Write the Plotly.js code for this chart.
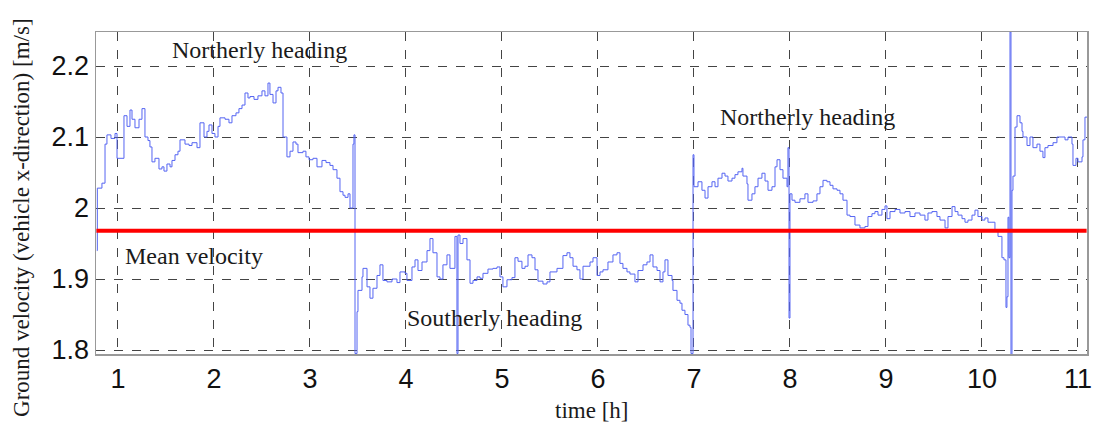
<!DOCTYPE html>
<html>
<head>
<meta charset="utf-8">
<script src="https://cdn.plot.ly/plotly-3.0.1.min.js"></script>
<style>html,body{margin:0;padding:0;background:#fff;}#chart{width:1098px;height:438px;}</style>
</head>
<body>
<div id="chart"></div>
<script>
// time [h]
const timeH = [
0.78,0.785,0.833,0.865,0.885,0.927,0.969,0.99,1.0625,1.094,1.125,1.146,1.177,1.219,1.25,1.281,1.3125,1.333,1.354,1.385,
1.427,1.458,1.479,1.51,1.542,1.5625,1.594,1.625,1.646,1.698,1.74,1.771,1.823,1.854,1.896,1.927,1.948,1.979,2.01,2.042,
2.0625,2.115,2.156,2.1875,2.229,2.26,2.292,2.323,2.354,2.375,2.417,2.458,2.5,2.531,2.5625,2.583,2.615,2.646,2.667,2.698,
2.719,2.76,2.792,2.823,2.854,2.875,2.927,2.958,2.99,3.031,3.073,3.125,3.167,3.208,3.24,3.281,3.3125,3.344,3.365,3.396,
3.417,3.448,3.458,3.469,3.49,
3.5,3.542,3.552,3.594,3.625,3.656,3.698,3.729,3.76,3.802,3.854,3.906,3.9375,3.99,4.01,4.0625,4.094,4.125,4.167,4.219,
4.25,4.281,4.323,4.354,4.385,4.427,4.458,4.51,4.531,4.542,4.5625,4.594,4.635,4.667,4.698,4.74,4.771,4.802,4.854,4.906,
4.948,4.979,5.01,5.052,5.104,5.135,5.167,5.208,5.24,5.271,5.3125,5.344,5.375,5.427,5.469,5.5,5.573,5.635,5.677,5.708,
5.74,5.781,5.8125,5.844,5.917,5.948,5.99,6.021,6.052,6.104,6.156,6.198,6.229,6.26,6.302,6.333,6.385,6.417,6.469,6.51,
6.542,6.573,6.615,6.646,6.677,6.698,6.729,6.771,6.781,6.823,6.854,6.875,6.906,6.9375,6.958,6.969,6.99,7.0,
7.042,7.083,7.115,7.146,7.1875,7.219,7.25,7.292,7.323,7.354,7.396,7.427,7.458,7.5,7.51,7.552,7.5625,7.604,7.635,7.667,
7.708,7.74,7.771,7.8125,7.844,7.865,7.896,7.927,7.969,7.979,7.99,8.0,8.021,8.052,8.104,8.156,8.1875,8.24,8.281,8.3125,
8.344,8.385,8.417,8.448,8.49,8.521,8.552,8.594,8.625,8.677,8.729,8.781,8.8125,8.854,8.885,8.917,8.958,8.99,9.01,9.042,
9.094,9.146,9.198,9.25,9.302,9.354,9.406,9.4375,9.479,9.531,9.5625,9.615,9.646,9.688,9.719,9.75,9.792,9.823,9.854,9.896,
9.927,9.958,10.0,10.031,10.0625,10.104,10.135,10.167,10.208,10.229,10.25,10.26,10.271,10.281,10.292,10.302,10.3125,10.323,10.344,10.365,
10.396,10.417,10.427,10.469,10.5,10.531,10.573,10.604,10.635,10.656,10.6875,10.74,10.781,10.833,10.865,10.896,10.9375,10.948,10.979,11.0,
11.042,11.052,11.073,11.1
];
// ground velocity [m/s]
const velocity = [
1.94,2.028,2.035,2.09,2.103,2.098,2.105,2.07,2.13,2.115,2.138,2.125,2.113,2.125,2.14,2.10,2.095,2.086,2.065,2.07,
2.055,2.058,2.052,2.062,2.058,2.067,2.075,2.08,2.096,2.09,2.088,2.092,2.085,2.12,2.10,2.108,2.117,2.105,2.10,2.115,
2.127,2.125,2.12,2.13,2.134,2.14,2.145,2.162,2.155,2.157,2.153,2.158,2.165,2.158,2.176,2.16,2.148,2.165,2.17,2.162,
2.10,2.072,2.08,2.093,2.09,2.078,2.08,2.072,2.068,2.07,2.058,2.067,2.064,2.06,2.054,2.042,2.023,2.018,2.015,2.02,
2.0,2.09,2.103,1.795,1.854,
1.884,1.903,1.915,1.889,1.873,1.887,1.905,1.92,1.898,1.896,1.9,1.895,1.91,1.908,1.898,1.917,1.927,1.912,1.924,1.94,
1.957,1.937,1.903,1.9,1.92,1.934,1.915,1.96,1.795,1.962,1.95,1.957,1.927,1.894,1.898,1.903,1.901,1.908,1.914,1.915,
1.917,1.903,1.889,1.899,1.902,1.93,1.925,1.915,1.918,1.934,1.93,1.913,1.897,1.893,1.896,1.91,1.915,1.933,1.937,1.93,
1.918,1.913,1.9,1.918,1.924,1.93,1.905,1.91,1.913,1.924,1.934,1.937,1.922,1.915,1.91,1.907,1.896,1.912,1.92,1.924,
1.934,1.917,1.912,1.896,1.91,1.927,1.905,1.898,1.884,1.87,1.866,1.856,1.85,1.835,1.832,1.795,2.075,2.03,
2.037,2.025,2.014,2.03,2.037,2.03,2.042,2.049,2.045,2.038,2.042,2.047,2.051,2.056,2.045,2.034,2.011,2.02,2.03,2.042,
2.049,2.038,2.025,2.03,2.058,2.068,2.054,2.042,2.03,2.085,1.845,2.02,2.011,2.008,2.013,2.02,2.008,2.01,2.02,2.03,
2.039,2.037,2.032,2.027,2.025,2.02,2.011,1.99,1.988,1.976,1.972,1.974,1.988,1.992,1.995,1.99,1.998,2.003,1.985,1.995,
1.998,1.993,1.995,1.988,1.993,1.99,1.983,1.993,1.995,1.988,1.983,1.972,1.988,2.002,1.995,1.99,1.985,1.98,1.983,1.99,
1.997,1.988,1.983,1.986,1.98,1.98,1.969,1.96,1.93,1.927,1.86,1.875,1.987,1.93,2.248,1.793,2.025,2.045,2.114,2.13,
2.12,2.108,2.1,2.088,2.1,2.085,2.09,2.08,2.071,2.085,2.088,2.092,2.1,2.1,2.096,2.1,2.09,2.06,2.07,2.065,
2.072,2.096,2.128,2.128
];
const meanTime = [0.775, 11.09];
const meanVelocity = [1.968, 1.968];
const xTicks = [1,2,3,4,5,6,7,8,9,10,11];
const yTicks = [1.8,1.9,2.0,2.1,2.2];
const yTickText = ['1.8','1.9','2','2.1','2.2'];

const serif = 'Liberation Serif, Times New Roman, serif';
const sans = 'Liberation Sans, Arial, sans-serif';

const traces = [
  {x: timeH, y: velocity, type: 'scatter', mode: 'lines', line: {color: '#5565f2', width: 1, shape: 'hv'}, hoverinfo: 'skip'},
  {x: meanTime, y: meanVelocity, type: 'scatter', mode: 'lines', line: {color: '#ff0000', width: 4}, hoverinfo: 'skip'}
];

const gridStyle = {showgrid: true, gridcolor: '#444', griddash: 'dash', gridwidth: 1, zeroline: false,
  showline: true, mirror: true, linecolor: '#999', linewidth: 1.5, ticks: ''};

const layout = {
  width: 1098, height: 438,
  margin: {l: 96, r: 11, t: 32, b: 84},
  paper_bgcolor: '#fff', plot_bgcolor: '#fff',
  showlegend: false,
  xaxis: Object.assign({}, gridStyle, {range: [0.771, 11.094], tickvals: xTicks, ticktext: xTicks.map(String),
    tickfont: {family: sans, size: 27, color: '#111'}}),
  yaxis: Object.assign({}, gridStyle, {range: [1.7944, 2.2479], tickvals: yTicks, ticktext: yTickText,
    tickfont: {family: sans, size: 27, color: '#111'}}),
  annotations: [
    {text: 'Ground velocity (vehicle x-direction) [m/s]', xref: 'paper', yref: 'paper', x: -0.0747, y: 0.4255,
     textangle: -90, showarrow: false, xanchor: 'center', yanchor: 'middle', font: {family: serif, size: 23, color: '#1a1a1a'}},
    {text: 'time [h]', xref: 'paper', yref: 'paper', x: 0.5, y: -0.177, showarrow: false,
     xanchor: 'center', yanchor: 'middle', font: {family: serif, size: 23, color: '#1a1a1a'}},
    {text: 'Northerly heading', x: 2.469, y: 2.2225, showarrow: false, xanchor: 'center', yanchor: 'middle',
     font: {family: serif, size: 24, color: '#1a1a1a'}},
    {text: 'Mean velocity', x: 1.052, y: 1.932, showarrow: false, xanchor: 'left', yanchor: 'middle',
     font: {family: serif, size: 24, color: '#1a1a1a'}},
    {text: 'Southerly heading', x: 4.917, y: 1.845, showarrow: false, xanchor: 'center', yanchor: 'middle',
     font: {family: serif, size: 24, color: '#1a1a1a'}},
    {text: 'Northerly heading', x: 8.1875, y: 2.128, showarrow: false, xanchor: 'center', yanchor: 'middle',
     font: {family: serif, size: 24, color: '#1a1a1a'}}
  ]
};

Plotly.newPlot('chart', traces, layout, {staticPlot: true, displayModeBar: false});
</script>
</body>
</html>
